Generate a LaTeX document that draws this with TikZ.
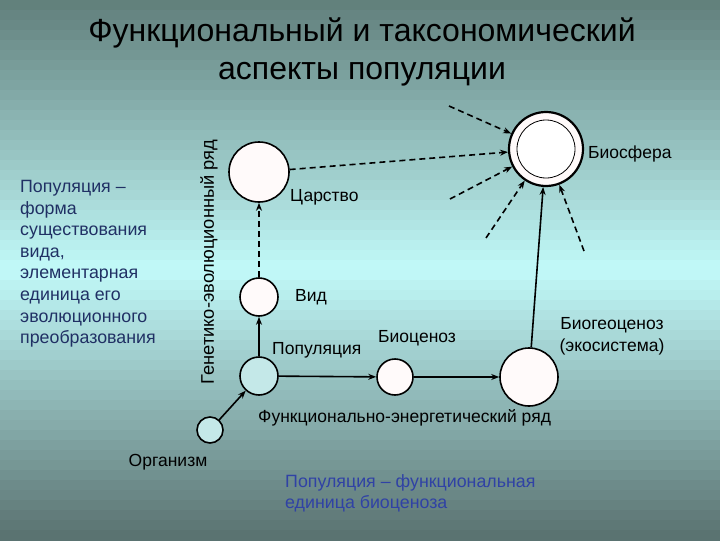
\documentclass[tikz,border=0pt]{standalone}
\usepackage{fontspec}
\setmainfont{Liberation Sans}
\usetikzlibrary{arrows.meta}
\definecolor{bgtop}{RGB}{96,126,122}
\definecolor{bgmid}{RGB}{194,250,250}
\definecolor{bgbot}{RGB}{88,112,110}
\definecolor{lefttxt}{RGB}{32,48,100}
\definecolor{bluetxt}{RGB}{48,66,165}
\definecolor{popfill}{RGB}{196,232,232}
\definecolor{wfill}{RGB}{255,250,250}
\begin{document}
\begin{tikzpicture}[x=1pt,y=-1pt,
  circ/.style={circle,draw=black,line width=1.6pt,fill=wfill,inner sep=0pt},
  lab/.style={font=\fontsize{17.5}{20}\selectfont,inner sep=0pt,anchor=west},
  arr/.style={line width=1.6pt,-{Stealth[length=8pt,width=6pt]}},
  darr/.style={line width=1.6pt,dash pattern=on 6pt off 4pt,-{Stealth[length=8pt,width=6pt]}}]
% background bands
\foreach \i in {0,...,53}{
  \pgfmathtruncatemacro{\p}{\i<27 ? round(100*(\i+0.5)/27) : round(100*(54-\i-0.5)/27)}
  \ifnum\i<27
    \fill[bgmid!\p!bgtop] (0,\i*10) rectangle (720,\i*10+10.5);
  \else
    \fill[bgmid!\p!bgbot] (0,\i*10) rectangle (720,\i*10+10.5);
  \fi
}
\useasboundingbox (0,0) rectangle (720,540);
% title
\node[font=\fontsize{32}{36}\selectfont,inner sep=0pt,anchor=base] (t1) at (362,42) {Функциональный и таксономический};
\node[font=\fontsize{32}{36}\selectfont,inner sep=0pt,anchor=base] (t2) at (362,79) {аспекты популяции};
% left text
\node[font=\fontsize{17.8}{21.6}\selectfont,text=lefttxt,align=left,anchor=north west,inner sep=0pt] (ltxt) at (20,180)
 {Популяция –\\форма\\существования\\вида,\\элементарная\\единица его\\эволюционного\\преобразования};
\node[font=\fontsize{18.3}{20}\selectfont,rotate=90,inner sep=0pt] (gen) at (209,262) {Генетико-эволюционный ряд};
% circles
\node[circ,minimum size=60pt] (tsar) at (259,172) {};
\node[circ,minimum size=38pt] (vid) at (259,297) {};
\node[circ,minimum size=38pt,fill=popfill] (pop) at (259,376) {};
\node[circ,minimum size=26pt,fill=popfill] (org) at (210,430) {};
\node[circ,minimum size=36pt] (bcen) at (395,377) {};
\node[circ,minimum size=58pt] (bgc) at (529,377) {};
\node[circ,minimum size=74pt,line width=2.2pt,fill=wfill] (bios) at (546,149) {};
\node[circle,draw=black,line width=0.8pt,fill=white,minimum size=58pt,inner sep=0pt] (biosin) at (546,149) {};
% labels
\node[lab] (ltsar) at (290,197) {Царство};
\node[lab] (lvid) at (295,297) {Вид};
\node[lab] (lpop) at (272,350) {Популяция};
\node[lab] (lbcen) at (378,338) {Биоценоз};
\node[lab,anchor=center,align=center,font=\fontsize{17.5}{22}\selectfont] (lbgc) at (612,336) {Биогеоценоз\\(экосистема)};
\node[lab] (lbios) at (588,154) {Биосфера};
\node[lab] (lfer) at (258,418) {Функционально-энергетический ряд};
\node[lab,anchor=center] (lorg) at (168,462) {Организм};
\node[font=\fontsize{17.8}{21}\selectfont,text=bluetxt,align=left,anchor=north west,inner sep=0pt] (blue) at (285,474)
 {Популяция – функциональная\\единица биоценоза};
% free ends
\coordinate (d1) at (449,106);
\coordinate (d2) at (450,199);
\coordinate (d3) at (486,238);
\coordinate (d4) at (584,251);
% arrows
\draw[arr] (org) -- (pop);
\draw[arr] (pop) -- (vid);
\draw[darr] (vid) -- (tsar);
\draw[arr] (pop) -- (bcen);
\draw[arr] (bcen) -- (bgc);
\draw[arr] (bgc) -- (bios);
\draw[darr] (tsar) -- (bios);
\draw[darr] (d1) -- (bios);
\draw[darr] (d2) -- (bios);
\draw[darr] (d3) -- (bios);
\draw[darr] (d4) -- (bios);
\end{tikzpicture}
\end{document}
